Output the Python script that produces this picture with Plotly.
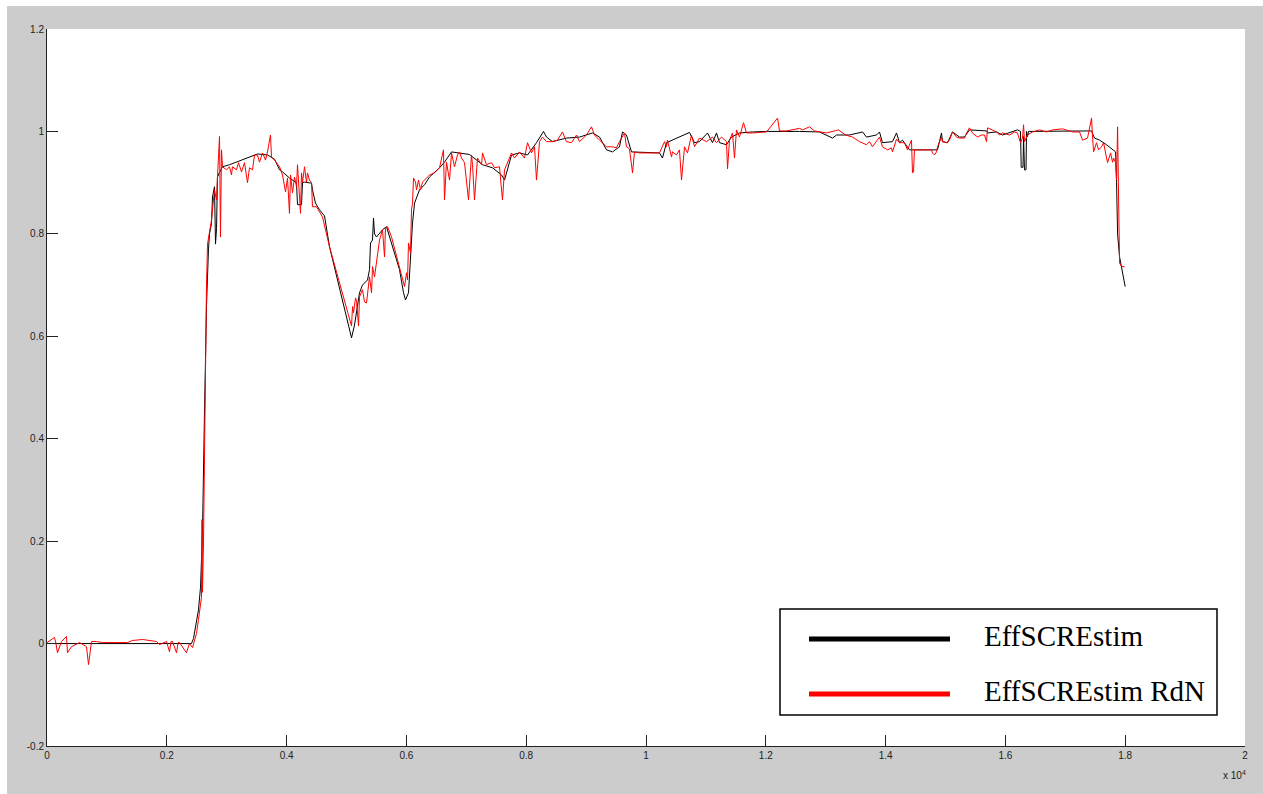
import plotly.graph_objects as go

# Sample index axis (scaled by 1e4 on the tick labels)
black_x = [0, 2412, 2446, 2496, 2529, 2563, 2596, 2629, 2663, 2696, 2713, 2746, 2763, 2796, 2813, 2830, 2846,
           2880, 2930, 3047, 3214, 3381, 3514, 3681, 3798, 3882, 3932, 4048, 4099, 4165, 4182, 4249, 4266,
           4299, 4416, 4432, 4482, 4549, 4633, 4716, 5084, 5134, 5217, 5267, 5351, 5384, 5401, 5434, 5451,
           5468, 5501, 5601, 5668, 5768, 5885, 5952, 5985, 6035, 6069, 6102, 6136, 6219, 6303, 6386, 6553,
           6636, 6753, 6887, 7053, 7271, 7437, 7588, 7638, 7755, 7888, 8022, 8172, 8289, 8339, 8439, 8672,
           8890, 9107, 9224, 9341, 9441, 9557, 9608, 9674, 9758, 10225, 10275, 10342, 10726, 10810, 10893,
           11027, 11110, 11177, 11227, 11344, 11427, 11561, 11778, 12012, 12563, 12897, 13114, 13181, 13398,
           13615, 13681, 13848, 13898, 13948, 14115, 14182, 14232, 14282, 14399, 14867, 14933, 14950, 15034,
           15117, 15234, 15317, 15401, 15685, 15702, 15852, 15952, 16119, 16202, 16252, 16264, 16294, 16303,
           16319, 16344, 16353, 16369, 16386, 17438, 17488, 17572, 17689, 17789, 17840, 17856, 17873, 17906,
           17940, 18000]
black_y = [0.0, 0.0, 0.01, 0.047, 0.066, 0.11, 0.22, 0.45, 0.66, 0.77, 0.80, 0.82, 0.872, 0.892, 0.78, 0.81,
           0.911, 0.92, 0.931, 0.935, 0.942, 0.950, 0.956, 0.954, 0.946, 0.925, 0.921, 0.909, 0.905, 0.90,
           0.857, 0.857, 0.90, 0.901, 0.899, 0.886, 0.860, 0.847, 0.835, 0.775, 0.597, 0.622, 0.685, 0.700,
           0.710, 0.730, 0.782, 0.788, 0.831, 0.80, 0.794, 0.808, 0.814, 0.775, 0.730, 0.685, 0.671, 0.685,
           0.749, 0.821, 0.860, 0.886, 0.896, 0.911, 0.929, 0.940, 0.960, 0.958, 0.955, 0.935, 0.929, 0.915,
           0.905, 0.954, 0.958, 0.954, 0.978, 1.0, 0.989, 0.980, 0.987, 0.989, 0.997, 0.989, 0.964, 0.960,
           0.970, 0.999, 0.993, 0.960, 0.958, 0.948, 0.978, 0.998, 0.978, 0.980, 0.997, 0.978, 0.997, 0.978,
           0.974, 0.989, 0.997, 0.999, 1.0, 1.0, 0.999, 0.987, 0.993, 0.993, 0.999, 0.989, 0.993, 0.999,
           0.978, 0.980, 0.997, 0.978, 0.983, 0.964, 0.964, 0.997, 0.980, 0.978, 0.999, 0.989, 0.989, 1.003,
           1.001, 0.997, 0.999, 0.993, 0.999, 1.003, 1.0, 0.93, 0.93, 0.99, 0.925, 0.925, 1.0, 0.99, 1.0,
           1.001, 0.987, 0.983, 0.974, 0.964, 0.960, 0.90, 0.80, 0.755, 0.735, 0.697]

red_x = [0, 125, 150, 175, 242, 326, 342, 409, 543, 659, 693, 743, 826, 927, 1344, 1427, 1594, 1828, 1878,
         1995, 2045, 2070, 2095, 2162, 2190, 2212, 2328, 2379, 2429, 2462, 2496, 2529, 2554, 2579, 2588, 2596,
         2613, 2629, 2646, 2663, 2680, 2713, 2746, 2796, 2830, 2846, 2880, 2896, 2913, 2930, 2997, 3047,
         3080, 3097, 3163, 3197, 3247, 3297, 3347, 3381, 3431, 3464, 3514, 3548, 3598, 3648, 3681, 3731,
         3748, 3798, 3882, 3932, 3982, 4015, 4048, 4065, 4099, 4132, 4165, 4182, 4215, 4232, 4249, 4266,
         4299, 4332, 4349, 4382, 4416, 4432, 4499, 4599, 4716, 5050, 5084, 5101, 5117, 5151, 5168, 5201,
         5217, 5267, 5301, 5334, 5384, 5418, 5434, 5468, 5518, 5551, 5601, 5635, 5651, 5685, 5752, 5835,
         5885, 5935, 5969, 6002, 6019, 6035, 6069, 6085, 6102, 6119, 6152, 6169, 6202, 6236, 6269, 6336,
         6386, 6469, 6553, 6619, 6636, 6669, 6686, 6720, 6753, 6803, 6853, 6887, 6920, 6970, 7037, 7087,
         7104, 7137, 7187, 7254, 7271, 7337, 7421, 7471, 7554, 7604, 7638, 7688, 7755, 7805, 7888, 7972,
         8022, 8089, 8139, 8172, 8222, 8272, 8339, 8422, 8522, 8606, 8672, 8756, 8840, 8890, 9006, 9090,
         9140, 9224, 9341, 9441, 9507, 9557, 9641, 9674, 9724, 9775, 9808, 9891, 10225, 10309, 10342,
         10359, 10426, 10442, 10509, 10559, 10593, 10643, 10693, 10760, 10810, 10893, 11010, 11110, 11177,
         11260, 11344, 11361, 11394, 11444, 11477, 11511, 11561, 11628, 11678, 11778, 12012, 12196, 12229,
         12346, 12563, 12613, 12730, 12813, 13014, 13214, 13331, 13448, 13565, 13681, 13731, 13781, 13898,
         13948, 14032, 14098, 14115, 14182, 14232, 14315, 14365, 14432, 14449, 14466, 14482, 14766, 14783,
         14816, 14850, 14867, 14933, 14950, 15017, 15067, 15117, 15184, 15234, 15317, 15351, 15401, 15451,
         15535, 15601, 15651, 15685, 15702, 15785, 15852, 15902, 15952, 16069, 16152, 16202, 16252, 16286,
         16303, 16319, 16369, 16453, 16570, 16686, 16787, 16954, 17121, 17238, 17288, 17371, 17438, 17455,
         17472, 17521, 17555, 17605, 17639, 17689, 17706, 17756, 17789, 17806, 17840, 17856, 17873, 17890,
         17906, 17940, 17990]
red_y = [0.002, 0.012, 0.0, -0.018, 0.004, 0.014, -0.018, -0.006, 0.002, -0.006, -0.041, 0.004, 0.004, 0.002,
         0.002, 0.006, 0.008, 0.004, -0.002, 0.004, -0.016, 0.004, 0.004, -0.018, 0.002, 0.002, -0.018, 0.0,
         -0.008, 0.006, 0.02, 0.047, 0.073, 0.09, 0.242, 0.10, 0.20, 0.40, 0.60, 0.70, 0.78, 0.80, 0.827,
         0.886, 0.866, 0.911, 0.99, 0.794, 0.964, 0.931, 0.925, 0.931, 0.915, 0.931, 0.925, 0.939, 0.921,
         0.939, 0.90, 0.929, 0.925, 0.954, 0.954, 0.940, 0.958, 0.944, 0.960, 0.993, 0.950, 0.944, 0.931,
         0.915, 0.882, 0.909, 0.84, 0.915, 0.880, 0.911, 0.892, 0.935, 0.880, 0.84, 0.919, 0.90, 0.931,
         0.901, 0.919, 0.905, 0.90, 0.853, 0.853, 0.833, 0.775, 0.638, 0.62, 0.658, 0.646, 0.675, 0.669,
         0.62, 0.677, 0.691, 0.667, 0.665, 0.716, 0.685, 0.736, 0.716, 0.763, 0.788, 0.808, 0.755, 0.812,
         0.814, 0.794, 0.755, 0.736, 0.710, 0.697, 0.724, 0.710, 0.782, 0.763, 0.847, 0.860, 0.909, 0.901,
         0.886, 0.905, 0.886, 0.901, 0.909, 0.915, 0.919, 0.929, 0.964, 0.866, 0.940, 0.929, 0.905, 0.958,
         0.931, 0.954, 0.960, 0.948, 0.939, 0.866, 0.954, 0.935, 0.866, 0.948, 0.935, 0.958, 0.935, 0.939,
         0.929, 0.931, 0.866, 0.925, 0.940, 0.958, 0.948, 0.960, 0.948, 0.978, 0.958, 0.970, 0.905, 0.980,
         0.989, 0.980, 0.980, 0.983, 0.999, 0.980, 0.978, 0.993, 0.980, 0.993, 1.009, 0.993, 0.983, 0.970,
         0.970, 0.968, 0.980, 0.997, 0.970, 0.966, 0.919, 0.960, 0.958, 0.958, 0.980, 0.970, 0.983, 0.950,
         0.960, 0.954, 0.964, 0.905, 0.970, 0.958, 0.993, 0.970, 0.987, 0.980, 0.989, 0.978, 0.989, 0.980,
         0.927, 0.983, 0.997, 0.948, 1.003, 0.989, 1.017, 0.997, 0.997, 0.999, 1.026, 1.001, 1.001, 1.006,
         1.003, 1.009, 1.001, 0.997, 1.003, 0.993, 0.989, 0.980, 0.974, 0.980, 0.970, 0.989, 0.970, 0.964,
         0.968, 0.960, 0.985, 0.978, 0.978, 0.964, 0.983, 0.919, 0.921, 0.964, 0.964, 0.958, 0.954, 0.960,
         0.970, 0.989, 0.980, 0.978, 0.983, 0.999, 0.989, 0.987, 0.987, 0.997, 1.007, 0.997, 0.989, 0.993,
         0.993, 0.980, 1.007, 1.003, 0.999, 0.993, 0.997, 0.993, 0.999, 0.997, 0.978, 0.987, 1.013, 0.980,
         0.993, 0.999, 1.003, 0.999, 1.003, 1.005, 0.999, 0.999, 0.983, 0.987, 1.026, 0.989, 0.960, 0.978,
         0.964, 0.970, 0.978, 0.948, 0.939, 0.958, 0.940, 0.948, 0.939, 0.905, 1.009, 0.866, 0.743, 0.736,
         0.736]

x_tick_vals = [0, 2000, 4000, 6000, 8000, 10000, 12000, 14000, 16000, 18000, 20000]
x_tick_text = ["0", "0.2", "0.4", "0.6", "0.8", "1", "1.2", "1.4", "1.6", "1.8", "2"]
y_tick_vals = [-0.2, 0, 0.2, 0.4, 0.6, 0.8, 1.0, 1.2]
y_tick_text = ["-0.2", "0", "0.2", "0.4", "0.6", "0.8", "1", "1.2"]

series_names = ["EffSCREstim", "EffSCREstim RdN"]
series_colors = ["#000000", "#ff0000"]

fig = go.Figure()
fig.add_trace(go.Scatter(x=black_x, y=black_y, mode="lines", name=series_names[0],
                         line=dict(color=series_colors[0], width=1), showlegend=False))
fig.add_trace(go.Scatter(x=red_x, y=red_y, mode="lines", name=series_names[1],
                         line=dict(color=series_colors[1], width=1), showlegend=False))

W, H = 1263, 794
ml, mr, mt, mb = 47, 18, 29, 48
pw, ph = W - ml - mr, H - mt - mb


def px_x(px):
    return (px - ml) / pw


def px_y(py):
    return (H - mb - py) / ph


shapes = [
    # white frame strips along the top and left edges of the figure
    dict(type="rect", xref="paper", yref="paper", x0=px_x(0), x1=px_x(W), y0=px_y(6), y1=px_y(0),
         fillcolor="white", line=dict(width=0), layer="below"),
    dict(type="rect", xref="paper", yref="paper", x0=px_x(0), x1=px_x(7), y0=px_y(H), y1=px_y(0),
         fillcolor="white", line=dict(width=0), layer="below"),
    # legend box
    dict(type="rect", xref="paper", yref="paper", x0=px_x(780), x1=px_x(1217), y0=px_y(715), y1=px_y(609),
         fillcolor="white", line=dict(color="black", width=1.5)),
    dict(type="line", xref="paper", yref="paper", x0=px_x(809), x1=px_x(950), y0=px_y(639), y1=px_y(639),
         line=dict(color=series_colors[0], width=5)),
    dict(type="line", xref="paper", yref="paper", x0=px_x(809), x1=px_x(950), y0=px_y(694), y1=px_y(694),
         line=dict(color=series_colors[1], width=5)),
]

annotations = [
    dict(text=series_names[0], xref="paper", yref="paper", x=px_x(982), y=px_y(636), xanchor="left",
         yanchor="middle", showarrow=False, font=dict(family="Liberation Serif", size=29, color="black")),
    dict(text=series_names[1], xref="paper", yref="paper", x=px_x(982), y=px_y(691), xanchor="left",
         yanchor="middle", showarrow=False, font=dict(family="Liberation Serif", size=29, color="black")),
    dict(text="x 10<sup>4</sup>", xref="paper", yref="paper", x=px_x(1248), y=px_y(775), xanchor="right",
         yanchor="middle", showarrow=False, font=dict(family="Liberation Sans", size=10, color="#222")),
]

fig.update_layout(
    width=W, height=H,
    margin=dict(l=ml, r=mr, t=mt, b=mb, pad=0),
    paper_bgcolor="#cccccc",
    plot_bgcolor="white",
    shapes=shapes,
    annotations=annotations,
    font=dict(family="Liberation Sans", size=10, color="#222"),
    xaxis=dict(range=[0, 20000], tickvals=x_tick_vals, ticktext=x_tick_text, showgrid=False, zeroline=False,
               showline=True, linecolor="#222", linewidth=1, ticks="inside", ticklen=11, tickcolor="#222",
               tickfont=dict(family="Liberation Sans", size=10, color="#222")),
    yaxis=dict(range=[-0.2, 1.2], tickvals=y_tick_vals, ticktext=y_tick_text, showgrid=False, zeroline=False,
               showline=True, linecolor="#222", linewidth=1, ticks="inside", ticklen=11, tickcolor="#222",
               tickfont=dict(family="Liberation Sans", size=10, color="#222")),
    showlegend=False,
)

fig.write_html("out.html")
